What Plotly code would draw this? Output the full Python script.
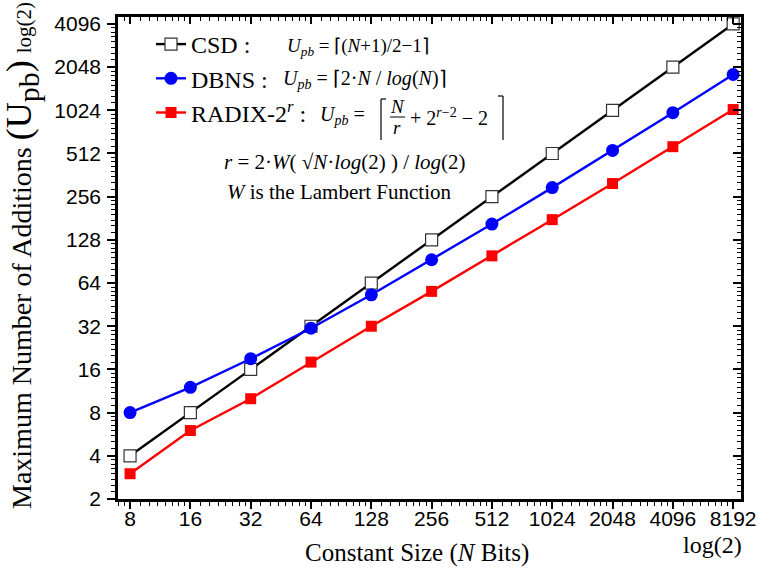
import math
import plotly.graph_objects as go

# ---- data ----
N_bits = [8, 16, 32, 64, 128, 256, 512, 1024, 2048, 4096, 8192]
csd = [4, 8, 16, 32, 64, 128, 256, 512, 1024, 2048, 4096]
dbns = [8, 12, 19, 31, 53, 93, 165, 296, 538, 985, 1819]
radix = [3, 6, 10, 18, 32, 56, 99, 177, 316, 571, 1036]
x_ticks = [8, 16, 32, 64, 128, 256, 512, 1024, 2048, 4096, 8192]
y_ticks = [2, 4, 8, 16, 32, 64, 128, 256, 512, 1024, 2048, 4096]

# ---- geometry (pixels) ----
WIDTH, HEIGHT = 758, 568
L, T, R, B = 118, 17, 741, 499
PW, PH = R - L, B - T


def px(x):
    return (x - L) / PW


def py(y):
    return (B - y) / PH


XR = [2.8 * math.log10(2), 13.13 * math.log10(2)]
YR = [1.0 * math.log10(2), 12.16 * math.log10(2)]

minor_x = [v * (1 + j / 8) for v in [4] + x_ticks for j in range(1, 8)]
minor_y = [v * (1 + j / 8) for v in [1] + y_ticks for j in range(1, 8)]

SERIF = "Liberation Serif, Times New Roman, serif"
SANS = "Liberation Sans, Arial, sans-serif"

fig = go.Figure()
fig.add_trace(go.Scatter(
    x=N_bits, y=csd, mode="lines+markers", name="CSD :",
    line=dict(color="black", width=2.4),
    marker=dict(symbol="square", size=12, color="white",
                line=dict(color="#333333", width=1.2)),
))
fig.add_trace(go.Scatter(
    x=N_bits, y=dbns, mode="lines+markers", name="DBNS :",
    line=dict(color="#0000FF", width=2.4),
    marker=dict(symbol="circle", size=13, color="#0000FF"),
))
fig.add_trace(go.Scatter(
    x=N_bits, y=radix, mode="lines+markers", name="RADIX-2<sup><i>r</i></sup> :",
    line=dict(color="#FF0000", width=2.4),
    marker=dict(symbol="square", size=11, color="#FF0000"),
))
# helper trace so the mirror axes render
fig.add_trace(go.Scatter(x=[None], y=[None], xaxis="x2", yaxis="y2",
                         showlegend=False, hoverinfo="skip"))

axis_common = dict(type="log", showgrid=False, zeroline=False,
                   showline=True, linecolor="black", linewidth=2.5,
                   tickcolor="black", tickwidth=1.5)

fig.update_layout(
    width=WIDTH, height=HEIGHT,
    margin=dict(l=L, r=WIDTH - R, t=T, b=HEIGHT - B, autoexpand=False),
    paper_bgcolor="white", plot_bgcolor="white",
    showlegend=True,
    legend=dict(x=px(151), y=py(22), xanchor="left", yanchor="top",
                bgcolor="rgba(0,0,0,0)", borderwidth=0,
                font=dict(family=SERIF, size=24, color="black"),
                tracegroupgap=0),
    xaxis=dict(**axis_common, range=XR, tickmode="array", tickvals=x_ticks,
               ticktext=[str(v) for v in x_ticks], ticks="outside", ticklen=7,
               ticklabelstandoff=-8,
               tickfont=dict(family=SANS, size=21, color="black"),
               minor=dict(tickmode="array", tickvals=minor_x, ticks="outside",
                          ticklen=4, tickcolor="black", tickwidth=1.2),
               mirror=False),
    yaxis=dict(**axis_common, range=YR, tickmode="array", tickvals=y_ticks,
               ticktext=[str(v) for v in y_ticks], ticks="outside", ticklen=8,
               ticklabelstandoff=2,
               tickfont=dict(family=SANS, size=21, color="black"),
               minor=dict(tickmode="array", tickvals=minor_y, ticks="outside",
                          ticklen=4, tickcolor="black", tickwidth=1.2),
               mirror=False),
    xaxis2=dict(**axis_common, range=XR, overlaying="x", side="top", anchor="y",
                tickmode="array", tickvals=x_ticks, ticks="inside", ticklen=7,
                showticklabels=False,
                minor=dict(tickmode="array", tickvals=minor_x, ticks="inside",
                           ticklen=4, tickcolor="black", tickwidth=1.2)),
    yaxis2=dict(**axis_common, range=YR, overlaying="y", side="right", anchor="x",
                tickmode="array", tickvals=y_ticks, ticks="inside", ticklen=8,
                showticklabels=False,
                minor=dict(tickmode="array", tickvals=minor_y, ticks="inside",
                           ticklen=4, tickcolor="black", tickwidth=1.2)),
)

ann = []


def text(x, y, s, size, xanchor="left", angle=0, family=SERIF):
    ann.append(dict(xref="paper", yref="paper", x=px(x), y=py(y), text=s,
                    showarrow=False, xanchor=xanchor, yanchor="middle",
                    textangle=angle, font=dict(family=family, size=size, color="black")))


# axis titles
text(22, 256,
     "Maximum Number of Additions "
     "<span style='font-size:36px'>(U<sub><span style='font-size:30px'>pb</span></sub>)</span>"
     " <span style='font-size:21px'>log(2)</span>", 28, xanchor="center", angle=-90)
text(417, 553, "Constant Size (<i>N</i> Bits)", 25, xanchor="center")
text(712, 545, "log(2)", 24, xanchor="center")

# legend formulas
text(285, 47, "<i>U</i><sub><i>pb</i></sub> = ⌈(<i>N</i>+1)/2−1⌉", 19)
text(281, 79, "<i>U</i><sub><i>pb</i></sub> = ⌈2·<i>N</i> / <i>log</i>(<i>N</i>)⌉", 20)
text(318, 115, "<i>U</i><sub><i>pb</i></sub> =", 20)
text(397, 106, "<i>N</i>", 19, xanchor="center")
text(397, 128, "<i>r</i>", 19, xanchor="center")
text(408, 117, "+ 2<sup><i>r</i>−2</sup> − 2", 20)
text(222, 162, "<i>r</i> = 2·<i>W</i>( √<i>N</i>·<i>log</i>(2) ) / <i>log</i>(2)", 21)
text(225, 192, "<i>W</i> is the Lambert Function", 21)

fig.update_layout(annotations=ann)

shapes = []


def seg(x0, y0, x1, y1, w=1.2):
    shapes.append(dict(type="line", xref="paper", yref="paper",
                       x0=px(x0), y0=py(y0), x1=px(x1), y1=py(y1),
                       line=dict(color="black", width=w)))


# tall ceiling brackets and fraction bar for the RADIX formula
seg(381, 99, 381, 140)
seg(381, 99, 386, 99)
seg(503, 96, 503, 140)
seg(498, 96, 503, 96)
seg(390, 117, 405, 117, 1)

fig.update_layout(shapes=shapes)

fig.write_html("out.html",
               config={"displayModeBar": False},
               post_script="document.body.style.margin='0px';"
                           "document.body.style.padding='0px';")
